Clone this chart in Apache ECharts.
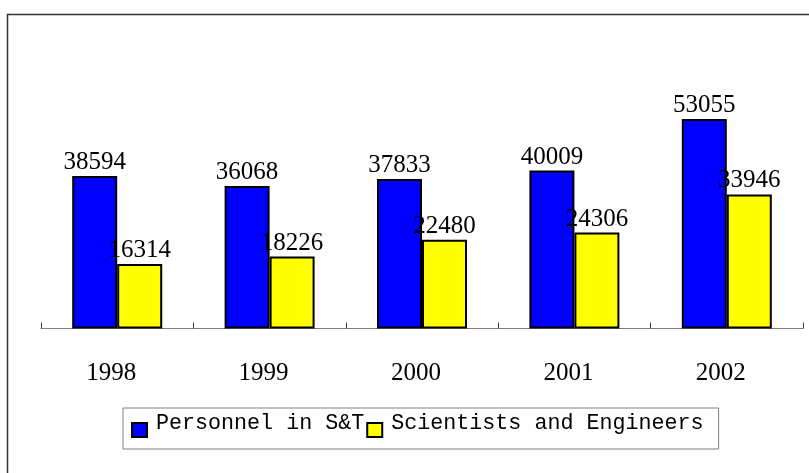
<!DOCTYPE html>
<html>
<head>
<meta charset="utf-8">
<script src="https://cdn.jsdelivr.net/npm/echarts@6/dist/echarts.min.js"></script>
<style>
  html, body { margin: 0; padding: 0; background: #fff; }
  #main { width: 809px; height: 473px; }
</style>
</head>
<body>
<div id="main"></div>
<script>
// data
var years = ['1998', '1999', '2000', '2001', '2002'];
var personnel = [38594, 36068, 37833, 40009, 53055];
var scientists = [16314, 18226, 22480, 24306, 33946];
var seriesNames = ['Personnel in S&T', 'Scientists and Engineers'];

var myChart = echarts.init(document.getElementById('main'));

var labelFont = 'Liberation Serif';
var legendFont = 'Liberation Mono';

var option = {
    animation: false,
    backgroundColor: '#fff',
    graphic: [
        {
            type: 'rect',
            shape: { x: 7.5, y: 14.5, width: 900, height: 600 },
            style: { fill: 'none', stroke: '#333', lineWidth: 1.5 },
            silent: true
        }
    ],
    grid: {
        left: 41,
        right: 6,
        top: 91.5,
        bottom: 144.5
    },
    legend: {
        left: 123,
        top: 408,
        orient: 'horizontal',
        // square sits at the bottom of a taller box, like the original
        icon: 'path://M0,0M0,14L15,14L15,28L0,28Z',
        itemWidth: 15,
        itemHeight: 28,
        itemGap: 2,
        padding: [0, 15, 11, 8],
        borderColor: '#808080',
        borderWidth: 1,
        textStyle: {
            fontFamily: legendFont,
            fontSize: 21.7,
            color: '#000',
            padding: [0, 0, 0, 4]
        },
        data: seriesNames
    },
    xAxis: {
        type: 'category',
        data: years,
        axisLine: { show: true, lineStyle: { color: '#808080', width: 1 } },
        axisTick: { show: true, inside: true, length: 6, lineStyle: { color: '#444', width: 1 } },
        axisLabel: {
            margin: 32,
            fontFamily: labelFont,
            fontSize: 25,
            color: '#000',
            padding: [0, 12, 0, 0]
        }
    },
    yAxis: {
        type: 'value',
        min: 0,
        max: 60000,
        show: false,
        splitLine: { show: false }
    },
    series: [
        {
            name: seriesNames[0],
            type: 'bar',
            data: personnel,
            barWidth: 45,
            barGap: '0%',
            itemStyle: { color: '#0000ff', borderColor: '#000', borderWidth: 2 },
            label: {
                show: true,
                position: 'top',
                distance: 1,
                fontFamily: labelFont,
                fontSize: 25,
                color: '#000'
            }
        },
        {
            name: seriesNames[1],
            type: 'bar',
            data: scientists,
            barWidth: 45,
            itemStyle: { color: '#ffff00', borderColor: '#000', borderWidth: 2 },
            label: {
                show: true,
                position: 'top',
                distance: 1,
                fontFamily: labelFont,
                fontSize: 25,
                color: '#000'
            }
        }
    ]
};

myChart.setOption(option);
</script>
</body>
</html>
